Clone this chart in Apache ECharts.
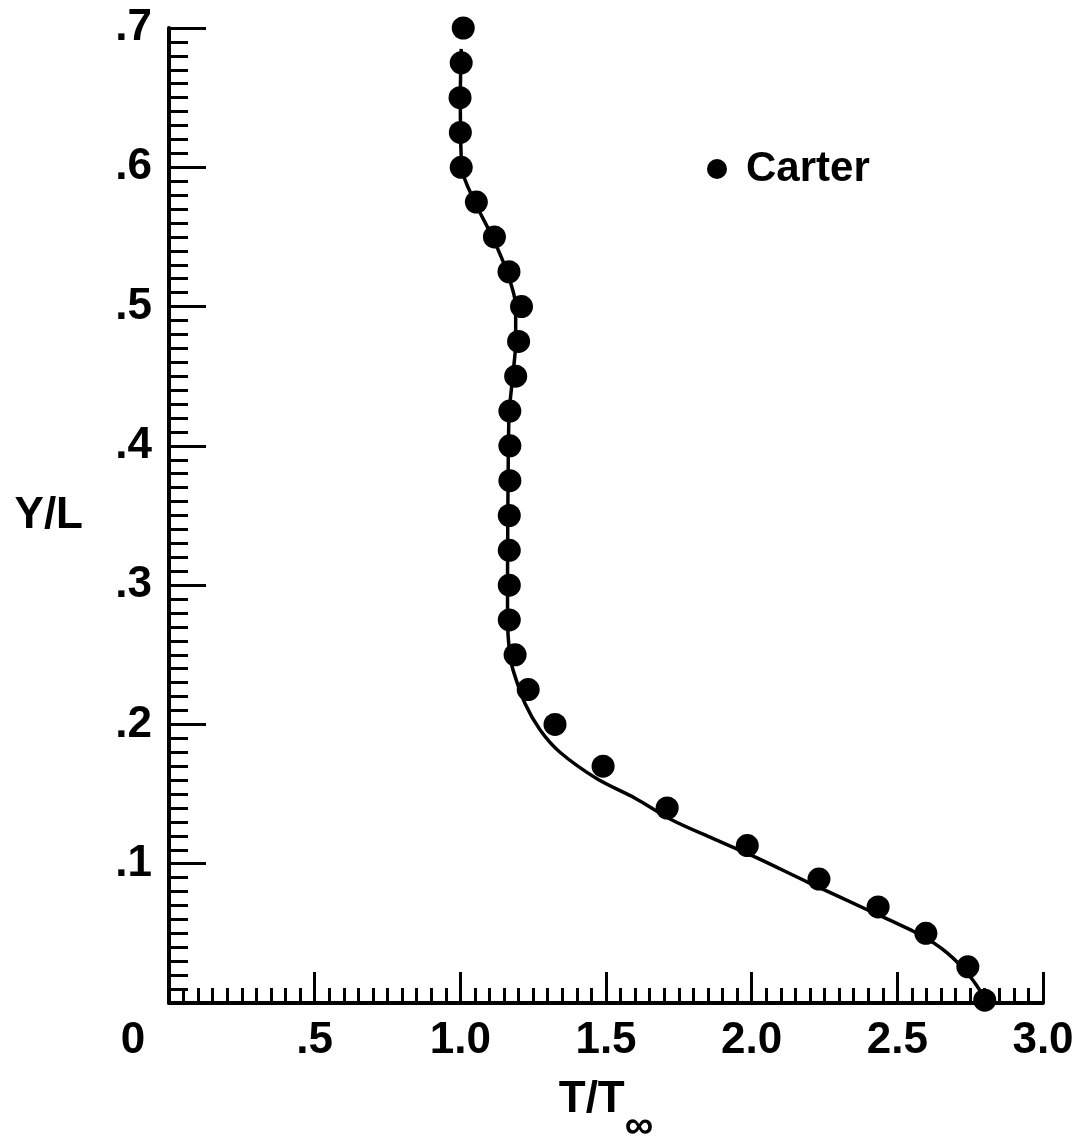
<!DOCTYPE html>
<html>
<head>
<meta charset="utf-8">
<script src="https://cdn.jsdelivr.net/npm/echarts@6/dist/echarts.min.js"></script>
<style>
html,body{margin:0;padding:0;background:#fff;}
#chart{width:1080px;height:1139px;}
</style>
</head>
<body>
<div id="chart"></div>
<script>
// Carter data points: [T/Tinf, Y/L]
const carterT = [1.01, 1.003, 0.999, 1.0, 1.003, 1.055, 1.117, 1.167, 1.21, 1.20, 1.19, 1.170, 1.170, 1.170, 1.168, 1.168, 1.168, 1.168, 1.188, 1.233, 1.325, 1.49, 1.71, 1.985, 2.231, 2.434, 2.598, 2.742, 2.80];
const carterY = [0.70, 0.675, 0.65, 0.625, 0.60, 0.575, 0.55, 0.525, 0.50, 0.475, 0.45, 0.425, 0.40, 0.375, 0.35, 0.325, 0.30, 0.275, 0.25, 0.225, 0.20, 0.17, 0.14, 0.113, 0.089, 0.069, 0.050, 0.026, 0.002];

// Computed profile (solid line): [T/Tinf, Y/L]
const lineT = [1.003, 1.0, 1.005, 1.05, 1.11, 1.16, 1.19, 1.19, 1.18, 1.168, 1.165, 1.163, 1.162, 1.162, 1.17, 1.181, 1.222, 1.274, 1.342, 1.469, 1.60, 1.73, 1.868, 2.02, 2.19, 2.417, 2.578, 2.671, 2.75, 2.805];
const lineY = [0.685, 0.65, 0.60, 0.575, 0.55, 0.525, 0.50, 0.475, 0.45, 0.425, 0.40, 0.35, 0.30, 0.275, 0.25, 0.239, 0.215, 0.196, 0.18, 0.161, 0.147, 0.131, 0.118, 0.104, 0.087, 0.065, 0.049, 0.036, 0.019, 0.002];

const FONT = "'Liberation Sans', Arial, Helvetica, sans-serif";
const W = 'bold';
const FS = 44;

const chart = echarts.init(document.getElementById('chart'), null, {renderer: 'canvas'});
chart.setOption({
  backgroundColor: '#ffffff',
  animation: false,
  legend: {
    data: ['Carter'],
    left: 702,
    top: 143,
    icon: 'circle',
    itemWidth: 48,
    itemHeight: 20,
    textStyle: {fontFamily: FONT, fontSize: 42, fontWeight: W, color: '#000'}
  },
  grid: {left: 169, right: 37, top: 28, bottom: 136, containLabel: false, outerBoundsMode: 'none'},
  xAxis: {
    type: 'value',
    min: 0, max: 3, interval: 0.5,
    name: '{a|T/T}{s|∞}',
    nameLocation: 'middle',
    nameGap: 50,
    nameMoveOverlap: false,
    nameTextStyle: {
      rich: {
        a: {fontFamily: FONT, fontSize: FS, fontWeight: W, color: '#000'},
        s: {fontFamily: FONT, fontSize: 40, fontWeight: W, color: '#000', padding: [54, 0, 0, 0]}
      }
    },
    axisLine: {show: true, onZero: false, lineStyle: {color: '#000', width: 4}},
    axisTick: {show: true, inside: true, length: 31, lineStyle: {color: '#000', width: 3}},
    minorTick: {show: true, splitNumber: 10, length: 15, lineStyle: {color: '#000', width: 3}},
    splitLine: {show: false},
    axisLabel: {
      margin: 16,
      fontFamily: FONT, fontSize: FS, fontWeight: W, color: '#000',
      formatter: function (v) {
        if (v === 0) return '{z|0}';
        if (v === 0.5) return '.5';
        return v.toFixed(1);
      },
      rich: {z: {fontFamily: FONT, fontSize: FS, fontWeight: W, color: '#000', padding: [0, 72, 0, 0]}}
    }
  },
  yAxis: {
    type: 'value',
    min: 0, max: 0.7, interval: 0.1,
    name: 'Y/L',
    nameLocation: 'middle',
    nameRotate: 0,
    nameGap: 86,
    nameMoveOverlap: false,
    nameTextStyle: {fontFamily: FONT, fontSize: FS, fontWeight: W, color: '#000'},
    axisLine: {show: true, onZero: false, lineStyle: {color: '#000', width: 4}},
    axisTick: {show: true, inside: true, length: 37, lineStyle: {color: '#000', width: 3}},
    minorTick: {show: true, splitNumber: 10, length: 19, lineStyle: {color: '#000', width: 3}},
    splitLine: {show: false},
    axisLabel: {
      margin: 17,
      fontFamily: FONT, fontSize: FS, fontWeight: W, color: '#000',
      formatter: function (v) {
        if (v === 0) return '';
        return '.' + Math.round(v * 10);
      }
    }
  },
  series: [
    {
      name: 'Profile',
      type: 'line',
      data: lineT.map((t, i) => [t, lineY[i]]),
      showSymbol: false,
      smooth: 0.3,
      lineStyle: {color: '#000', width: 3.5},
      z: 2
    },
    {
      name: 'Carter',
      type: 'scatter',
      data: carterT.map((t, i) => [t, carterY[i]]),
      symbol: 'circle',
      symbolSize: 23,
      itemStyle: {color: '#000', opacity: 1},
      z: 3
    }
  ]
});
</script>
</body>
</html>
